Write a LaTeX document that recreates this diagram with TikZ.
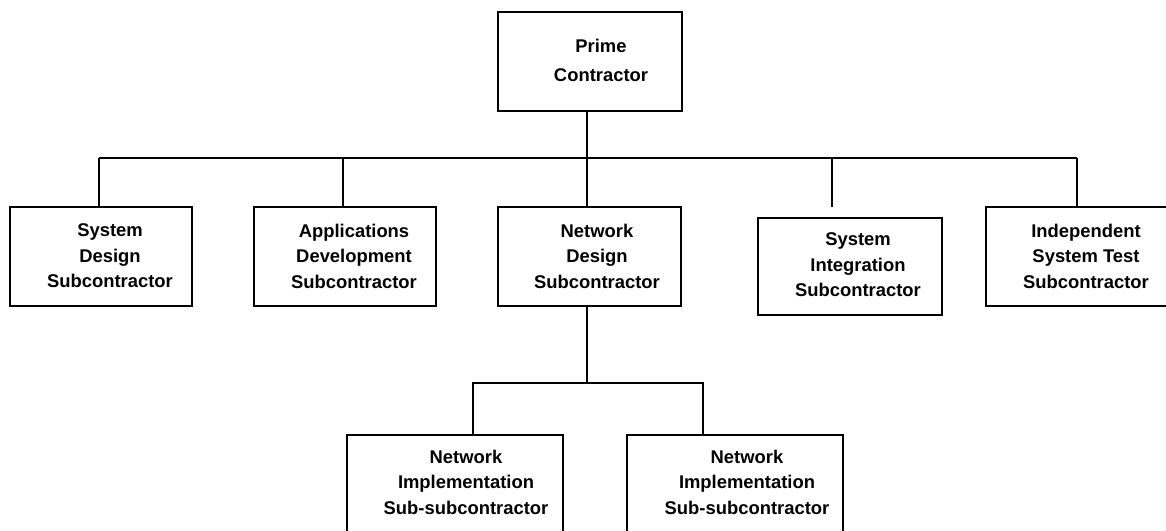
\documentclass[tikz,border=0pt]{standalone}
\usepackage{fontspec}
\setmainfont{Liberation Sans}
\begin{document}
\begin{tikzpicture}[x=1pt,y=-1pt,line width=2pt,
  box/.style={draw=black,line width=2pt,rectangle,inner sep=0pt,minimum width=#1},
  box/.default=184pt,
  lbl/.style={align=center,inner sep=0pt,font=\bfseries\fontsize{18.4}{25.5}\selectfont},
  wire/.style={draw=black,line width=2pt}]
\useasboundingbox (0,0) rectangle (1166,530);
% boxes
\node[box=184pt,minimum height=99pt] (prime) at (590,61.5) {};
\node[lbl,font=\bfseries\fontsize{18.4}{29}\selectfont] (primeT) at (601,60) {Prime\\Contractor};
\node[box=182pt,minimum height=99pt] (sd) at (101,256.5) {};
\node[lbl] (sdT) at (110,256) {System\\Design\\Subcontractor};
\node[box=182pt,minimum height=99pt] (ad) at (345,256.5) {};
\node[lbl] (adT) at (354,256) {Applications\\Development\\Subcontractor};
\node[box=183pt,minimum height=99pt] (nd) at (589.5,256.5) {};
\node[lbl] (ndT) at (597,256) {Network\\Design\\Subcontractor};
\node[box=184pt,minimum height=97pt] (si) at (850,266.5) {};
\node[lbl] (siT) at (858,265) {System\\Integration\\Subcontractor};
\node[box=188pt,minimum height=99pt] (ist) at (1080,256.5) {};
\node[lbl] (istT) at (1086,256) {Independent\\System Test\\Subcontractor};
\node[box=216pt,minimum height=97pt] (ni1) at (455,483.5) {};
\node[lbl] (ni1T) at (466,482) {Network\\Implementation\\Sub-subcontractor};
\node[box=216pt,minimum height=97pt] (ni2) at (735,483.5) {};
\node[lbl] (ni2T) at (747,482) {Network\\Implementation\\Sub-subcontractor};
% bus 1
\coordinate (busL) at (99,158);
\coordinate (busR) at (1077,158);
\coordinate (busM) at (587,158);
\draw[wire] (busL) -- (busR);
\draw[wire] ([xshift=-3pt]prime.south) -- (busM);
\draw[wire] ([xshift=-2pt]sd.north) -- ([xshift=-2pt]sd.north |- busL);
\draw[wire] ([xshift=-2pt]ad.north) -- ([xshift=-2pt]ad.north |- busL);
\draw[wire] ([xshift=-2.5pt]nd.north) -- ([xshift=-2.5pt]nd.north |- busL);
\draw[wire,shorten <=10pt] ([xshift=-18pt]si.north) -- ([xshift=-18pt]si.north |- busL);
\draw[wire] ([xshift=-3pt]ist.north) -- (busR);
% bus 2
\coordinate (bus2L) at (472,383);
\coordinate (bus2R) at (704,383);
\draw[wire] (bus2L) -- (bus2R);
\draw[wire] ([xshift=-2.5pt]nd.south) -- ([xshift=-2.5pt]nd.south |- bus2L);
\draw[wire] ([xshift=18pt]ni1.north) -- ([xshift=18pt]ni1.north |- bus2L);
\draw[wire] ([xshift=-32pt]ni2.north) -- ([xshift=-32pt]ni2.north |- bus2L);
\end{tikzpicture}
\end{document}
